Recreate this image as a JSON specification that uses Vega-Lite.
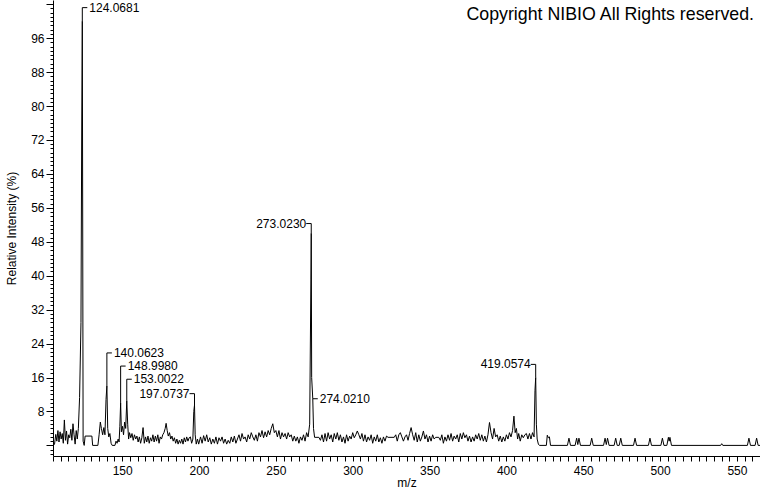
{
  "$schema": "https://vega.github.io/schema/vega-lite/v6.json",
  "width": 707,
  "height": 456,
  "autosize": {"type": "none"},
  "padding": {"left": 53, "top": 0, "right": 0, "bottom": 36},
  "background": "white",
  "config": {
    "view": {"stroke": null},
    "axis": {"grid": false, "domainColor": "black", "tickColor": "black", "labelColor": "black", "titleColor": "black", "labelFont": "Liberation Sans", "titleFont": "Liberation Sans", "labelFontSize": 12, "titleFontSize": 12, "titleFontWeight": "normal"},
    "text": {"font": "Liberation Sans"}
  },
  "title": {"text": "Copyright NIBIO All Rights reserved.", "anchor": "end", "orient": "top", "offset": -22, "baseline": "alphabetic", "dx": -8, "dy": 18, "font": "Liberation Sans", "fontSize": 17.8, "fontWeight": "normal", "color": "black"},
  "datasets": {
    "spec": [
      {"mz":105.2,"i":0},{"mz":106,"i":0.3},{"mz":106.8,"i":2.6},{"mz":107.5,"i":1},{"mz":108.2,"i":3.5},{"mz":108.9,"i":0.8},{"mz":109.6,"i":3.2},{"mz":110.3,"i":1.5},{"mz":111,"i":2.8},{"mz":111.7,"i":0.5},{"mz":112.4,"i":6},{"mz":113.1,"i":1.2},{"mz":113.8,"i":3.4},{"mz":114.5,"i":0.3},{"mz":115.2,"i":2.5},{"mz":115.9,"i":1.8},{"mz":116.6,"i":3.8},{"mz":117.3,"i":1.2},{"mz":118,"i":5.1},{"mz":118.7,"i":2.5},{"mz":119.4,"i":0.3},{"mz":120.1,"i":3.5},{"mz":120.8,"i":1.5},{"mz":121.5,"i":4},{"mz":122.3,"i":11.3},{"mz":123.2,"i":29},{"mz":123.7,"i":76},{"mz":124.07,"i":100},{"mz":124.6,"i":1},{"mz":125.3,"i":0},{"mz":125.9,"i":2.2},{"mz":130.3,"i":2.2},{"mz":130.8,"i":0},{"mz":134.2,"i":0},
      {"mz":135,"i":2.5},{"mz":135.8,"i":5.5},{"mz":136.5,"i":4},{"mz":137.3,"i":2.5},{"mz":138.1,"i":4.2},{"mz":138.8,"i":2.5},{"mz":139.5,"i":10.8},{"mz":140.06,"i":14},{"mz":140.6,"i":4},{"mz":141.3,"i":2},{"mz":142,"i":2.8},{"mz":142.8,"i":0.5},{"mz":143.5,"i":0},{"mz":145.3,"i":0},{"mz":146,"i":1},{"mz":146.7,"i":0.5},{"mz":147.4,"i":1.5},{"mz":148,"i":0.8},{"mz":148.5,"i":4.5},{"mz":149,"i":10},{"mz":149.5,"i":3.2},{"mz":150.2,"i":4.5},{"mz":150.9,"i":2.5},{"mz":151.6,"i":5.5},{"mz":152.3,"i":4},{"mz":153,"i":10.5},{"mz":153.6,"i":5},
      {"mz":154.2,"i":1.5},{"mz":154.8,"i":3},{"mz":155.6,"i":1.8},{"mz":156.4,"i":2.8},{"mz":157.2,"i":1.2},{"mz":158,"i":2.5},{"mz":158.8,"i":1.5},{"mz":159.6,"i":2.2},{"mz":160.4,"i":0.8},{"mz":161.2,"i":2},{"mz":162,"i":0.5},{"mz":162.8,"i":1.8},{"mz":163.6,"i":4.2},{"mz":164.4,"i":0.5},{"mz":165.2,"i":2},{"mz":166,"i":0.8},{"mz":166.8,"i":2.2},{"mz":167.6,"i":0.5},{"mz":168.4,"i":1.8},{"mz":169.2,"i":1},{"mz":170,"i":2.5},{"mz":170.8,"i":0.8},{"mz":171.6,"i":2.2},{"mz":172.4,"i":1},{"mz":173.2,"i":2.5},{"mz":174,"i":0.5},{"mz":174.8,"i":2},{"mz":175.6,"i":1.5},{"mz":176.4,"i":2.5},{"mz":177.2,"i":3},{"mz":178,"i":4},{"mz":178.6,"i":5.2},{"mz":179.3,"i":3.5},{"mz":180,"i":2.2},{"mz":180.8,"i":3},{"mz":181.6,"i":1.5},{"mz":182.4,"i":2.2},{"mz":183.2,"i":1},{"mz":184,"i":1.8},{"mz":184.8,"i":0.5},{"mz":185.6,"i":1.5},{"mz":186.4,"i":0.3},{"mz":187.2,"i":1.2},{"mz":188,"i":0.5},{"mz":188.8,"i":1.5},{"mz":189.6,"i":0.3},{"mz":190.4,"i":1.8},{"mz":191.2,"i":0.8},{"mz":192,"i":2},{"mz":192.8,"i":1},{"mz":193.6,"i":1.8},{"mz":194.4,"i":2},{"mz":195.2,"i":0.5},{"mz":196,"i":1.5},{"mz":196.6,"i":8},{"mz":197.07,"i":9.5},{"mz":197.5,"i":2.5},{"mz":198.2,"i":0.3},{"mz":199,"i":1.5},{"mz":199.8,"i":0.3},
      {"mz":201,"i":2},{"mz":202,"i":0.5},{"mz":203,"i":2.3},{"mz":204,"i":1},{"mz":205,"i":2.5},{"mz":206,"i":0.8},{"mz":207,"i":1.8},{"mz":208,"i":0.3},{"mz":209,"i":1.5},{"mz":210,"i":0.5},{"mz":211,"i":2},{"mz":212,"i":0.3},{"mz":213,"i":1.8},{"mz":214,"i":1},{"mz":215,"i":2},{"mz":216,"i":0.5},{"mz":217,"i":1.5},{"mz":218,"i":0.3},{"mz":219,"i":1.2},{"mz":220,"i":0.5},{"mz":221,"i":2},{"mz":222,"i":0.8},{"mz":223,"i":2.2},{"mz":224,"i":0.5},{"mz":225,"i":1.5},{"mz":226,"i":2.5},{"mz":227,"i":1},
      {"mz":228,"i":2.8},{"mz":229,"i":1.5},{"mz":230,"i":2},{"mz":231,"i":0.8},{"mz":232,"i":2.5},{"mz":233,"i":1.5},{"mz":234,"i":3},{"mz":235,"i":2},{"mz":236,"i":1.2},{"mz":237,"i":2.5},{"mz":238,"i":1},{"mz":239,"i":3},{"mz":240,"i":2},{"mz":241,"i":3.5},{"mz":242,"i":1.8},{"mz":243,"i":3.2},{"mz":244,"i":2},{"mz":245,"i":3.5},{"mz":246,"i":2.5},{"mz":247,"i":4},{"mz":248,"i":5.1},{"mz":249,"i":3},{"mz":250,"i":3.5},{"mz":251,"i":2},{"mz":252,"i":3.5},{"mz":253,"i":1.5},{"mz":254,"i":3},{"mz":255,"i":2},{"mz":256,"i":2.8},{"mz":257,"i":1.5},{"mz":258,"i":3},{"mz":259,"i":2},{"mz":260,"i":2.5},{"mz":261,"i":1},{"mz":262,"i":2.2},{"mz":263,"i":1},{"mz":264,"i":2},{"mz":265,"i":0.5},{"mz":266,"i":2},{"mz":267,"i":1.2},{"mz":268,"i":2.5},{"mz":269,"i":1},{"mz":270,"i":3},{"mz":271,"i":2},{"mz":272,"i":5},{"mz":272.8,"i":39},{"mz":273.02,"i":50},{"mz":273.3,"i":16},{"mz":274.02,"i":11},{"mz":274.5,"i":4},{"mz":275.2,"i":1.9},{"mz":278,"i":1.9},
      {"mz":279,"i":1.2},{"mz":280,"i":2.5},{"mz":281,"i":0.8},{"mz":282,"i":2.8},{"mz":283,"i":1},{"mz":284,"i":3},{"mz":285,"i":1.5},{"mz":286,"i":2.5},{"mz":287,"i":0.8},{"mz":288,"i":2.8},{"mz":289,"i":1.5},{"mz":290,"i":3},{"mz":291,"i":1.2},{"mz":292,"i":2.5},{"mz":293,"i":0.8},{"mz":294,"i":2},{"mz":295,"i":0.5},{"mz":296,"i":2.5},{"mz":297,"i":1},{"mz":298,"i":2.2},{"mz":299,"i":1.5},{"mz":300,"i":3},{"mz":301,"i":1.8},{"mz":302,"i":2.5},{"mz":303,"i":3.4},{"mz":304,"i":2.5},{"mz":305,"i":1.5},{"mz":306,"i":2.8},{"mz":307,"i":1},{"mz":308,"i":2.5},{"mz":309,"i":0.8},{"mz":310,"i":2},{"mz":311,"i":1.2},{"mz":312,"i":2.5},{"mz":313,"i":0.5},{"mz":314,"i":2},{"mz":315,"i":1},{"mz":316,"i":2.5},{"mz":317,"i":0.8},{"mz":318,"i":1.8},{"mz":319,"i":0.5},{"mz":320,"i":2},{"mz":321,"i":1},{"mz":322,"i":2.2},{"mz":323,"i":1.9},{"mz":327,"i":1.9},{"mz":328,"i":2.5},{"mz":329,"i":1},{"mz":330,"i":2.5},{"mz":331,"i":3},{"mz":332,"i":2},{"mz":333,"i":1},{"mz":334,"i":2},{"mz":335,"i":2.5},{"mz":336,"i":1.2},{"mz":337,"i":2.8},{"mz":338,"i":4.2},{"mz":339,"i":2.5},{"mz":340,"i":1.2},{"mz":341,"i":3},{"mz":342,"i":0.8},{"mz":343,"i":2.5},{"mz":344,"i":1},{"mz":345,"i":2},{"mz":346,"i":3.4},{"mz":347,"i":1.5},{"mz":348,"i":2.5},{"mz":349,"i":0.8},{"mz":350,"i":2.2},{"mz":351,"i":1},{"mz":352,"i":2.5},{"mz":353,"i":1.5},{"mz":354,"i":1.9},{"mz":356,"i":1.9},{"mz":357,"i":1.2},{"mz":358,"i":2.5},{"mz":359,"i":0.5},{"mz":360,"i":2},{"mz":361,"i":1},{"mz":362,"i":2.5},{"mz":363,"i":1.2},{"mz":364,"i":2.8},{"mz":365,"i":1},{"mz":366,"i":2.2},{"mz":367,"i":1.5},{"mz":368,"i":2.5},{"mz":369,"i":0.8},{"mz":370,"i":2.8},{"mz":371,"i":1.5},{"mz":372,"i":3},{"mz":373,"i":1.8},{"mz":374,"i":2.5},{"mz":375,"i":1},{"mz":376,"i":2.2},{"mz":377,"i":0.8},{"mz":378,"i":2},{"mz":379,"i":1},{"mz":380,"i":2.5},{"mz":381,"i":1.5},{"mz":382,"i":2.8},{"mz":383,"i":1.2},{"mz":384,"i":2.5},{"mz":385,"i":1},{"mz":386,"i":2.2},{"mz":387,"i":0.8},{"mz":388,"i":2.5},{"mz":389,"i":5.4},{"mz":390,"i":3},{"mz":391,"i":1.5},{"mz":392,"i":4},{"mz":393,"i":2},{"mz":394,"i":2.5},{"mz":395,"i":1},{"mz":396,"i":2.2},{"mz":397,"i":0.8},{"mz":398,"i":2},{"mz":399,"i":1},{"mz":400,"i":2.5},{"mz":401,"i":1.5},{"mz":402,"i":3},{"mz":403,"i":2},{"mz":404,"i":3.5},{"mz":404.9,"i":6.9},{"mz":405.7,"i":3},{"mz":406.5,"i":4},{"mz":407.3,"i":1.5},{"mz":408,"i":2.8},{"mz":409,"i":1},{"mz":410,"i":2.5},{"mz":411,"i":1.8},{"mz":412,"i":2.5},{"mz":413,"i":2.8},{"mz":414,"i":1.5},{"mz":415,"i":2.8},{"mz":416,"i":1.5},{"mz":417,"i":3},{"mz":418,"i":2},{"mz":418.6,"i":13},{"mz":419.06,"i":16},{"mz":419.5,"i":5},
      {"mz":420,"i":1.5},{"mz":420.8,"i":0.3},{"mz":421.5,"i":0},{"mz":426,"i":0},{"mz":426.6,"i":2.4},{"mz":427.3,"i":1.8},{"mz":428,"i":2},{"mz":428.7,"i":0},{"mz":439.7,"i":0},{"mz":440.7,"i":1.7},{"mz":441.7,"i":0},{"mz":444.7,"i":0},{"mz":445.7,"i":1.7},{"mz":446.45,"i":0.2},{"mz":447.2,"i":1.7},{"mz":448.2,"i":0},{"mz":454.5,"i":0},{"mz":455.5,"i":1.7},{"mz":456.5,"i":0},{"mz":463.2,"i":0},{"mz":464.2,"i":1.7},{"mz":465,"i":0.2},{"mz":465.8,"i":1.7},{"mz":466.8,"i":0},{"mz":470.1,"i":0},{"mz":471.1,"i":1.7},{"mz":472.1,"i":0},{"mz":473.4,"i":0},{"mz":474.4,"i":1.7},{"mz":475.4,"i":0},{"mz":482.7,"i":0},{"mz":483.7,"i":1.7},{"mz":484.7,"i":0},{"mz":492.4,"i":0},{"mz":493.4,"i":1.7},{"mz":494.4,"i":0},{"mz":500.5,"i":0},{"mz":501.5,"i":1.7},{"mz":502.5,"i":0},{"mz":504.4,"i":0},{"mz":505.4,"i":1.9},{"mz":505.9,"i":1},{"mz":506.4,"i":1.9},{"mz":507.4,"i":0},{"mz":539.4,"i":0},{"mz":540.1,"i":0.4},{"mz":540.8,"i":0},{"mz":556.8,"i":0},{"mz":557.8,"i":1.7},{"mz":558.8,"i":0},{"mz":561.8,"i":0},{"mz":562.8,"i":1.7},{"mz":563.8,"i":0},{"mz":565,"i":0}
    ],
    "peaks": [
      {"mz":124.07,"peak":100,"level":103.2,"label":"124.0681","side":"r"},
      {"mz":140.06,"peak":14,"level":21.8,"label":"140.0623","side":"r"},
      {"mz":149,"peak":10,"level":18.7,"label":"148.9980","side":"r"},
      {"mz":153,"peak":10.5,"level":15.6,"label":"153.0022","side":"r"},
      {"mz":197.07,"peak":9.5,"level":12.2,"label":"197.0737","side":"l"},
      {"mz":273.02,"peak":50,"level":52.3,"label":"273.0230","side":"l"},
      {"mz":274.02,"peak":11,"level":11,"label":"274.0210","side":"r"},
      {"mz":419.06,"peak":16,"level":19.1,"label":"419.0574","side":"l"}
    ]
  },
  "layer": [
    {
      "data": {"name": "spec"},
      "mark": {"type": "line", "color": "black", "strokeWidth": 1},
      "encoding": {
        "x": {"field": "mz", "type": "quantitative", "scale": {"domain": [105, 565], "nice": false, "zero": false},
          "axis": {"orient": "bottom", "values": [150,200,250,300,350,400,450,500,550], "tickSize": 5, "labelPadding": 4, "labelFlush": false, "title": "m/z", "titlePadding": 1}},
        "y": {"field": "i", "type": "quantitative", "scale": {"domain": [-2.5, 105], "nice": false, "zero": false},
          "axis": {"orient": "left", "values": [0,8,16,24,32,40,48,56,64,72,80,88,96,104], "tickSize": 7, "labelPadding": 2, "labelExpr": "(datum.value > 0 && datum.value < 100) ? datum.label : ''", "labelOverlap": false, "title": "Relative Intensity (%)", "titleX": -42, "titleBaseline": "middle"}}
      }
    },
    {
      "data": {"name": "peaks"},
      "mark": {"type": "rule", "color": "black", "strokeWidth": 1},
      "encoding": {
        "x": {"field": "mz", "type": "quantitative", "axis": {"orient": "bottom", "values": [105,110,115,120,125,130,135,140,145,155,160,165,170,175,180,185,190,195,205,210,215,220,225,230,235,240,245,255,260,265,270,275,280,285,290,295,305,310,315,320,325,330,335,340,345,355,360,365,370,375,380,385,390,395,405,410,415,420,425,430,435,440,445,455,460,465,470,475,480,485,490,495,505,510,515,520,525,530,535,540,545,555,560,565], "labels": false, "domain": false, "tickSize": 5, "title": null}},
        "y": {"field": "peak", "type": "quantitative", "axis": {"orient": "left", "values": [-2,-1,1,2,3,4,5,6,7,9,10,11,12,13,14,15,17,18,19,20,21,22,23,25,26,27,28,29,30,31,33,34,35,36,37,38,39,41,42,43,44,45,46,47,49,50,51,52,53,54,55,57,58,59,60,61,62,63,65,66,67,68,69,70,71,73,74,75,76,77,78,79,81,82,83,84,85,86,87,89,90,91,92,93,94,95,97,98,99,100,101,102,103], "labels": false, "domain": false, "tickSize": 3, "title": null}},
        "y2": {"field": "level"}
      }
    },
    {
      "data": {"name": "peaks"},
      "transform": [{"filter": "datum.side == 'r'"}],
      "mark": {"type": "rule", "color": "black", "strokeWidth": 1, "x2Offset": 5},
      "encoding": {
        "x": {"field": "mz", "type": "quantitative", "axis": null},
        "x2": {"field": "mz"},
        "y": {"field": "level", "type": "quantitative", "axis": null}
      }
    },
    {
      "data": {"name": "peaks"},
      "transform": [{"filter": "datum.side == 'l'"}],
      "mark": {"type": "rule", "color": "black", "strokeWidth": 1, "x2Offset": -5},
      "encoding": {
        "x": {"field": "mz", "type": "quantitative", "axis": null},
        "x2": {"field": "mz"},
        "y": {"field": "level", "type": "quantitative", "axis": null}
      }
    },
    {
      "data": {"name": "peaks"},
      "transform": [{"filter": "datum.side == 'r'"}],
      "mark": {"type": "text", "align": "left", "baseline": "middle", "dx": 7, "fontSize": 12, "color": "black", "font": "Liberation Sans"},
      "encoding": {
        "x": {"field": "mz", "type": "quantitative", "axis": null},
        "y": {"field": "level", "type": "quantitative", "axis": null},
        "text": {"field": "label"}
      }
    },
    {
      "data": {"name": "peaks"},
      "transform": [{"filter": "datum.side == 'l'"}],
      "mark": {"type": "text", "align": "right", "baseline": "middle", "dx": -5, "fontSize": 12, "color": "black", "font": "Liberation Sans"},
      "encoding": {
        "x": {"field": "mz", "type": "quantitative", "axis": null},
        "y": {"field": "level", "type": "quantitative", "axis": null},
        "text": {"field": "label"}
      }
    }
  ],
  "resolve": {"axis": {"x": "independent", "y": "independent"}}
}
